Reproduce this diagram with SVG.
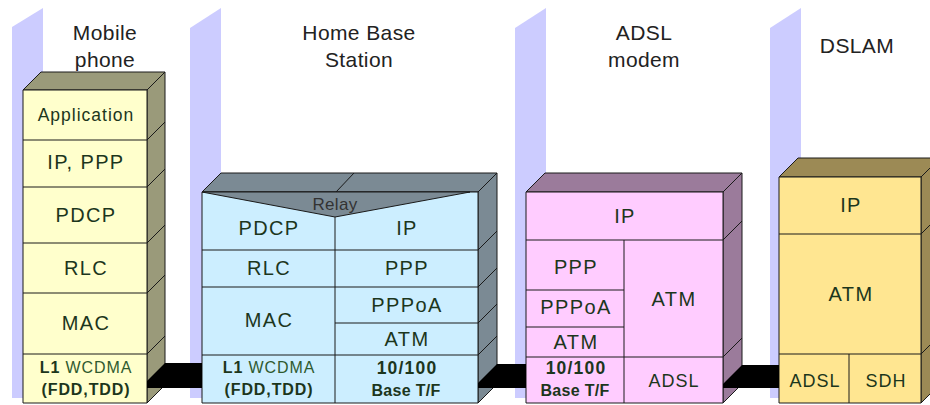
<svg xmlns="http://www.w3.org/2000/svg" width="930" height="405" viewBox="0 0 930 405">
  <style>
    .band { fill: #ccccff; }
    .ln { stroke: #1a1a1a; stroke-width: 1; }
    .face { stroke: #1a1a1a; stroke-width: 1; stroke-linejoin: round; }
    .title { font-family: "Liberation Sans", Arial, sans-serif; font-size: 21px; letter-spacing: 0.4px; fill: #222222; text-anchor: middle; }
    .lbl { font-family: "Liberation Sans", Arial, sans-serif; font-size: 20px; letter-spacing: 1.4px; fill: #1c361c; text-anchor: middle; }
    .app { font-size: 17.5px; letter-spacing: 1px; }
    .sm { font-size: 18px; letter-spacing: 1px; }
    .phy { font-size: 16px; letter-spacing: 0.9px; }
    .num { font-size: 17.5px; letter-spacing: 1.2px; }
    .base { font-size: 16px; letter-spacing: 0.3px; }
    .b { font-weight: bold; }
    .w { font-weight: normal; fill: #2f5a2f; }
    .relay { font-family: "Liberation Sans", Arial, sans-serif; font-size: 17px; letter-spacing: 0.3px; fill: #333333; text-anchor: middle; }
    .bar { fill: #000000; }
  </style>

  <!-- vertical lavender guide bands behind each device -->
  <g id="bands">
    <polygon class="band" points="12,27 43,8 43,398 12,398"/>
    <polygon class="band" points="190,28 221,8 221,398 190,398"/>
    <polygon class="band" points="515,28 546,8 546,398 515,398"/>
    <polygon class="band" points="770,28 801,8 801,398 770,398"/>
  </g>

  <!-- device titles -->
  <g id="titles">
    <text class="title" x="105" y="40">Mobile</text>
    <text class="title" x="105" y="67">phone</text>
    <text class="title" x="359" y="40">Home Base</text>
    <text class="title" x="359" y="67">Station</text>
    <text class="title" x="644" y="40">ADSL</text>
    <text class="title" x="644" y="67">modem</text>
    <text class="title" x="857" y="53">DSLAM</text>
  </g>

  <!-- Mobile phone protocol stack -->
  <g id="mobile">
    <polygon class="face" fill="#9a9a7a" points="23,90 41,72 165,72 147,90"/>
    <polygon class="face" fill="#9a9a7a" points="147,90 165,72 165,385 147,403"/>
    <rect class="face" fill="#ffffcc" x="23" y="90" width="124" height="313"/>
    <line class="ln" x1="23" y1="140" x2="147" y2="140"/>
    <line class="ln" x1="23" y1="187" x2="147" y2="187"/>
    <line class="ln" x1="23" y1="243" x2="147" y2="243"/>
    <line class="ln" x1="23" y1="293" x2="147" y2="293"/>
    <line class="ln" x1="23" y1="354" x2="147" y2="354"/>
    <line class="ln" x1="147" y1="140" x2="165" y2="122"/>
    <line class="ln" x1="147" y1="187" x2="165" y2="169"/>
    <line class="ln" x1="147" y1="243" x2="165" y2="225"/>
    <line class="ln" x1="147" y1="293" x2="165" y2="275"/>
    <line class="ln" x1="147" y1="354" x2="165" y2="336"/>
    <text class="lbl app" x="86" y="121">Application</text>
    <text class="lbl" x="86" y="169">IP, PPP</text>
    <text class="lbl" x="86" y="222">PDCP</text>
    <text class="lbl" x="86" y="275">RLC</text>
    <text class="lbl" x="86" y="330">MAC</text>
    <text class="lbl phy" x="86" y="373"><tspan class="b">L1</tspan><tspan class="w"> WCDMA</tspan></text>
    <text class="lbl phy b" x="86" y="395">(FDD,TDD)</text>
  </g>

  <!-- Home Base Station protocol stack -->
  <g id="home-base-station">
    <polygon class="face" fill="#7b8a94" points="202,192 221,173 497,173 478,192"/>
    <line class="ln" x1="336" y1="192" x2="354" y2="173"/>
    <polygon class="face" fill="#7b8a94" points="478,192 497,173 497,384 478,403"/>
    <rect class="face" fill="#cceeff" x="202" y="192" width="276" height="211"/>
    <polygon class="face" fill="#7b8a94" points="202,192 470,192 335,217"/>
    <line class="ln" x1="335" y1="217" x2="335" y2="403"/>
    <line class="ln" x1="202" y1="250" x2="478" y2="250"/>
    <line class="ln" x1="202" y1="287" x2="478" y2="287"/>
    <line class="ln" x1="335" y1="323" x2="478" y2="323"/>
    <line class="ln" x1="202" y1="355" x2="478" y2="355"/>
    <line class="ln" x1="478" y1="250" x2="497" y2="231"/>
    <line class="ln" x1="478" y1="287" x2="497" y2="268"/>
    <line class="ln" x1="478" y1="323" x2="497" y2="304"/>
    <line class="ln" x1="478" y1="355" x2="497" y2="336"/>
    <text class="relay" x="335" y="210">Relay</text>
    <text class="lbl" x="269" y="235">PDCP</text>
    <text class="lbl" x="407" y="235">IP</text>
    <text class="lbl" x="269" y="275">RLC</text>
    <text class="lbl" x="407" y="275">PPP</text>
    <text class="lbl" x="269" y="327">MAC</text>
    <text class="lbl" x="407" y="312">PPPoA</text>
    <text class="lbl" x="407" y="346">ATM</text>
    <text class="lbl phy" x="269" y="373"><tspan class="b">L1</tspan><tspan class="w"> WCDMA</tspan></text>
    <text class="lbl phy b" x="269" y="395">(FDD,TDD)</text>
    <text class="lbl num b" x="407" y="374">10/100</text>
    <text class="lbl base b" x="406" y="396">Base T/F</text>
  </g>

  <!-- ADSL modem protocol stack -->
  <g id="adsl-modem">
    <polygon class="face" fill="#9b7b9b" points="526,192 545,173 742,173 723,192"/>
    <polygon class="face" fill="#9b7b9b" points="723,192 742,173 742,384 723,403"/>
    <rect class="face" fill="#ffccff" x="526" y="192" width="197" height="211"/>
    <line class="ln" x1="526" y1="240" x2="723" y2="240"/>
    <line class="ln" x1="624" y1="240" x2="624" y2="403"/>
    <line class="ln" x1="526" y1="290" x2="624" y2="290"/>
    <line class="ln" x1="526" y1="327" x2="624" y2="327"/>
    <line class="ln" x1="526" y1="357" x2="723" y2="357"/>
    <line class="ln" x1="723" y1="240" x2="742" y2="221"/>
    <line class="ln" x1="723" y1="357" x2="742" y2="338"/>
    <text class="lbl" x="625" y="223">IP</text>
    <text class="lbl" x="576" y="274">PPP</text>
    <text class="lbl" x="576" y="314">PPPoA</text>
    <text class="lbl" x="576" y="349">ATM</text>
    <text class="lbl" x="674" y="306">ATM</text>
    <text class="lbl num b" x="576" y="374">10/100</text>
    <text class="lbl base b" x="575" y="396">Base T/F</text>
    <text class="lbl sm" x="674" y="387">ADSL</text>
  </g>

  <!-- DSLAM protocol stack -->
  <g id="dslam">
    <polygon class="face" fill="#9c8a55" points="779,177 798,158 940,158 921,177"/>
    <polygon class="face" fill="#9c8a55" points="921,177 940,158 940,384 921,403"/>
    <rect class="face" fill="#ffe691" x="779" y="177" width="142" height="226"/>
    <line class="ln" x1="779" y1="234" x2="921" y2="234"/>
    <line class="ln" x1="779" y1="354" x2="921" y2="354"/>
    <line class="ln" x1="849" y1="354" x2="849" y2="403"/>
    <line class="ln" x1="921" y1="234" x2="940" y2="215"/>
    <line class="ln" x1="921" y1="354" x2="940" y2="335"/>
    <text class="lbl" x="851" y="212">IP</text>
    <text class="lbl" x="851" y="301">ATM</text>
    <text class="lbl sm" x="815" y="387">ADSL</text>
    <text class="lbl sm" x="886" y="387">SDH</text>
  </g>

  <!-- physical links between devices -->
  <g id="connectors">
    <polygon class="bar" points="147,388 147,381 165,363 202,363 202,388"/>
    <polygon class="bar" points="478,388 478,383 497,364 526,364 526,388"/>
    <polygon class="bar" points="723,388 723,384 742,365 779,365 779,388"/>
  </g>
</svg>
